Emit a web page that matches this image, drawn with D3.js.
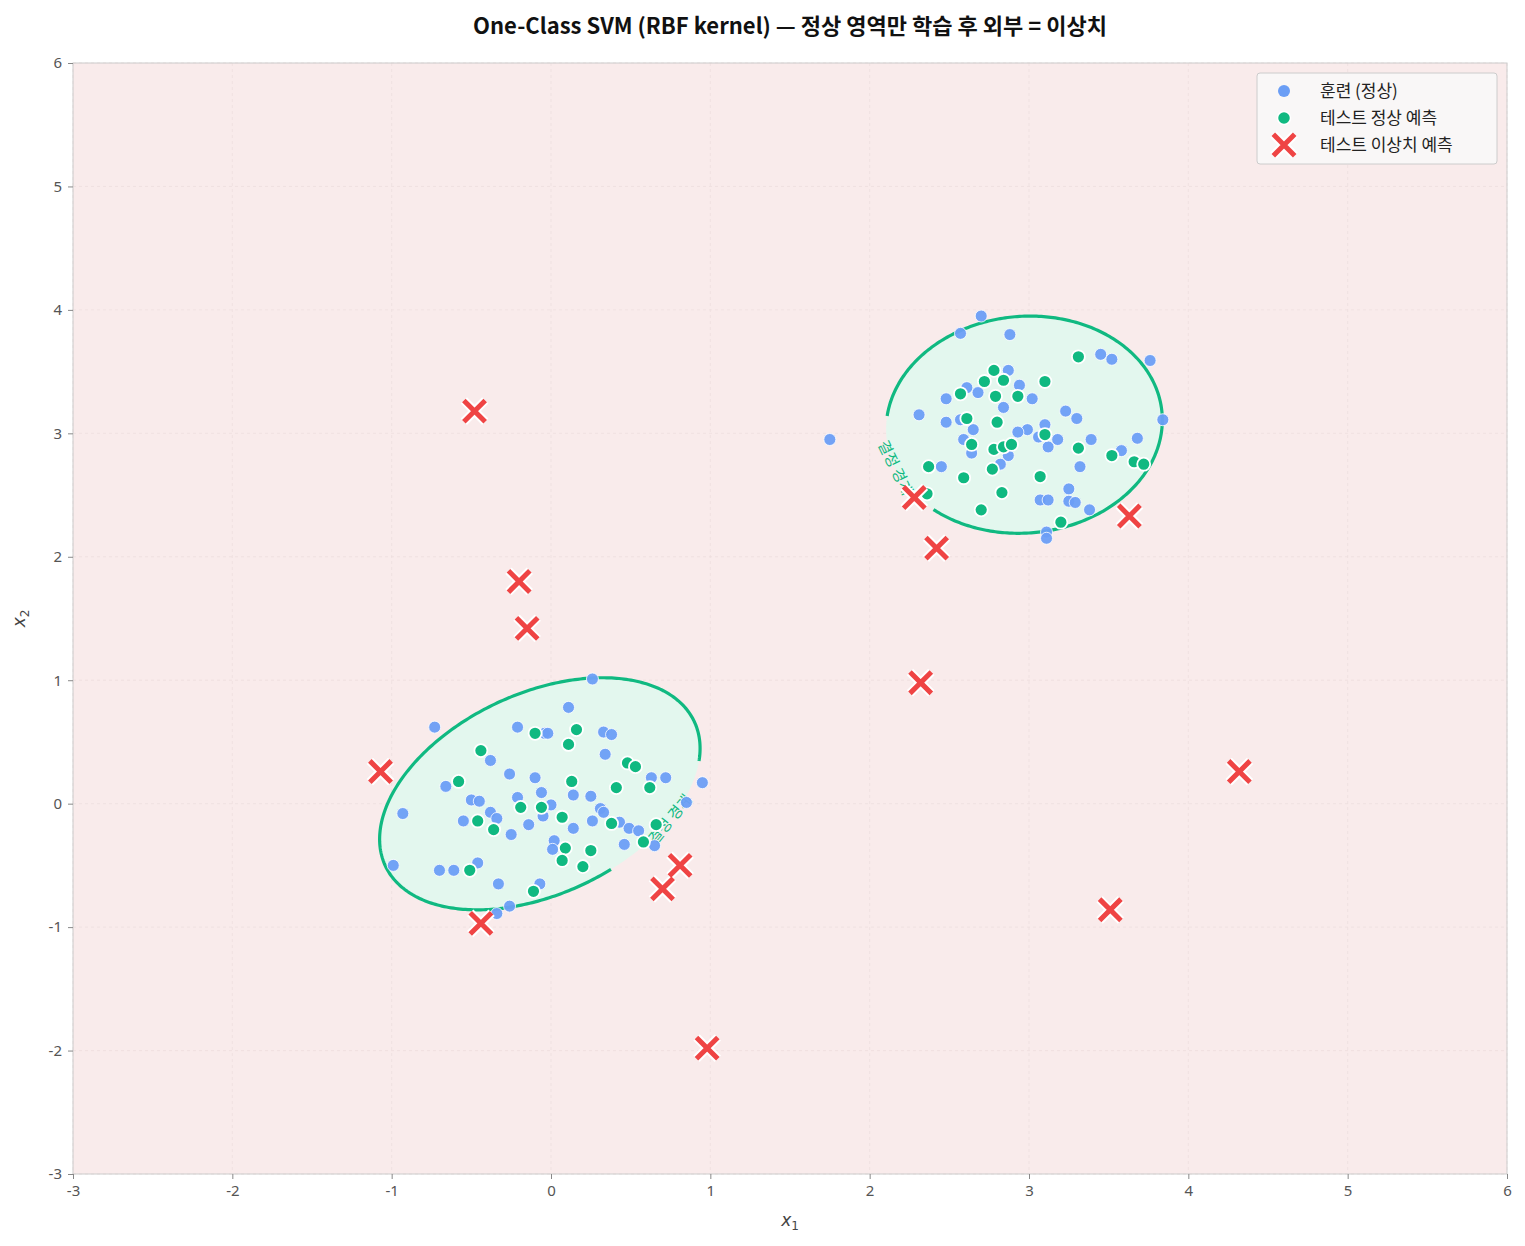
<!DOCTYPE html>
<html><head><meta charset="utf-8">
<script src="https://cdn.jsdelivr.net/npm/d3@7"></script>
<style>body{margin:0;background:#fff}svg{font-family:"Noto Sans CJK KR","Noto Sans",sans-serif}</style>
</head><body><svg id="c" width="1525" height="1246"></svg>
<script>
const xTicks=[-3,-2,-1,0,1,2,3,4,5,6];
const yTicks=[-3,-2,-1,0,1,2,3,4,5,6];
const trainX=[-0.73,-0.93,-0.99,-0.70,-0.61,-0.66,-0.38,-0.50,-0.45,-0.55,-0.38,-0.34,-0.46,-0.26,-0.21,-0.25,-0.21,-0.14,-0.10,-0.06,-0.04,-0.02,-0.05,0.00,0.02,0.01,0.11,0.14,0.14,0.25,0.26,0.33,0.34,0.38,0.43,0.31,0.33,0.46,0.49,0.55,0.63,0.72,0.65,0.85,0.95,0.26,-0.07,-0.26,-0.34,-0.33,
2.70,2.57,2.88,3.45,3.52,3.76,2.31,2.48,2.61,2.68,2.87,2.94,3.02,2.84,2.48,2.57,2.65,2.59,2.64,2.99,2.93,3.10,3.06,3.18,3.12,3.23,3.30,3.39,3.68,3.84,3.58,3.32,2.45,2.87,2.82,3.25,3.07,3.12,3.25,3.29,3.38,3.11,3.11,1.75];
const trainY=[0.62,-0.08,-0.50,-0.54,-0.54,0.14,0.35,0.03,0.02,-0.14,-0.07,-0.12,-0.48,0.24,0.62,-0.25,0.05,-0.17,0.21,0.09,0.57,0.57,-0.10,-0.01,-0.30,-0.37,0.78,0.07,-0.20,0.06,-0.14,0.58,0.40,0.56,-0.15,-0.04,-0.07,-0.33,-0.20,-0.22,0.21,0.21,-0.34,0.01,0.17,1.01,-0.65,-0.83,-0.89,-0.65,
3.95,3.81,3.80,3.64,3.60,3.59,3.15,3.28,3.37,3.33,3.51,3.39,3.28,3.21,3.09,3.11,3.03,2.95,2.84,3.03,3.01,3.07,2.97,2.95,2.89,3.18,3.12,2.95,2.96,3.11,2.86,2.73,2.73,2.82,2.75,2.55,2.46,2.46,2.45,2.44,2.38,2.20,2.15,2.95];
const normX=[-0.44,-0.58,-0.10,0.11,0.16,-0.19,-0.06,0.13,-0.46,-0.36,0.07,0.38,0.41,0.48,0.53,0.62,0.66,0.09,0.07,0.25,0.20,0.58,-0.51,-0.11,
3.31,2.78,2.72,2.84,3.10,2.57,2.79,2.93,2.61,2.80,3.10,2.64,2.78,2.84,2.89,3.31,2.37,2.59,2.77,3.07,3.52,3.66,3.72,2.83,2.70,3.20,2.36];
const normY=[0.43,0.18,0.57,0.48,0.60,-0.03,-0.03,0.18,-0.14,-0.21,-0.11,-0.16,0.13,0.33,0.30,0.13,-0.17,-0.36,-0.46,-0.38,-0.51,-0.31,-0.54,-0.71,
3.62,3.51,3.42,3.43,3.42,3.32,3.30,3.30,3.12,3.09,2.99,2.91,2.87,2.89,2.91,2.88,2.73,2.64,2.71,2.65,2.82,2.77,2.75,2.52,2.38,2.28,2.51];
const outX=[-0.48,-0.20,-0.15,-1.07,-0.44,0.81,0.70,0.98,2.28,2.42,2.32,3.63,4.32,3.51];
const outY=[3.18,1.80,1.42,0.26,-0.97,-0.50,-0.69,-1.98,2.48,2.07,0.98,2.33,0.26,-0.86];
const bCx=[-0.07,2.97], bCy=[0.08,3.07];
const bA=[1.07,0.868], bB=[0.63,0.68], bRot=[-25,-5];
const gapFrom=[[0.93,0.35],[2.10,3.15]], gapTo=[[0.40,-0.58],[2.40,2.38]];
const legendLabels=["훈련 (정상)","테스트 정상 예측","테스트 이상치 예측"];

const svg=d3.select("#c");
const M={l:73,r:1507,t:63,b:1174};
const x=d3.scaleLinear().domain([-3,6]).range([M.l,M.r]);
const y=d3.scaleLinear().domain([-3,6]).range([M.b,M.t]);
const ux=x(1)-x(0);
svg.append("rect").attr("x",M.l).attr("y",M.t).attr("width",M.r-M.l).attr("height",M.b-M.t).attr("fill","#f9ebeb");
const g=svg.append("g");
g.selectAll(".gx").data(xTicks).join("line").attr("x1",d=>x(d)).attr("x2",d=>x(d)).attr("y1",M.t).attr("y2",M.b).attr("stroke","#eedede").attr("stroke-dasharray","3,3").attr("stroke-width",0.8);
g.selectAll(".gy").data(yTicks).join("line").attr("y1",d=>y(d)).attr("y2",d=>y(d)).attr("x1",M.l).attr("x2",M.r).attr("stroke","#eedede").attr("stroke-dasharray","3,3").attr("stroke-width",0.8);

function ellPts(i){
  const th=bRot[i]*Math.PI/180, a=bA[i]*ux, b=bB[i]*ux, cx=x(bCx[i]), cy=y(bCy[i]);
  return d3.range(0,361).map(k=>{const t=k*Math.PI/180;
    const ex=a*Math.cos(t), ey=b*Math.sin(t);
    return [cx+ex*Math.cos(th)-ey*Math.sin(th), cy+ex*Math.sin(th)+ey*Math.cos(th)];});
}
[0,1].forEach(i=>{
  svg.append("path").attr("d",d3.line()(ellPts(i))+"Z").attr("fill","#e3f7ee");
});
[0,1].forEach(i=>{
  const pts=ellPts(i).slice(0,360);
  const near=p=>d3.minIndex(pts,q=>(q[0]-x(p[0]))**2+(q[1]-y(p[1]))**2);
  const i1=near(gapFrom[i]), i2=near(gapTo[i]);
  let s=i1,e=i2; let len=(e-s+360)%360; if(len>180){[s,e]=[e,s];len=360-len;}
  const arc=[]; for(let k=0;k<=360-len;k++) arc.push(pts[(e+k)%360]);
  svg.append("path").attr("d",d3.line()(arc)).attr("fill","none").attr("stroke","#10b981").attr("stroke-width",3.2);
  const m=pts[(s+Math.round(len/2))%360];
  const pa=pts[s], pb=pts[e];
  let ang=Math.atan2(pb[1]-pa[1],pb[0]-pa[0])*180/Math.PI;
  if(ang>90) ang-=180; if(ang<-90) ang+=180;
  svg.append("text").attr("transform",`translate(${m[0]},${m[1]}) rotate(${ang})`)
    .attr("text-anchor","middle").attr("dy","0.35em").style("font-size","15px").attr("fill","#10b981").text("결정 경계");
});

svg.append("g").selectAll("circle").data(trainX.map((d,i)=>[d,trainY[i]])).join("circle")
 .attr("cx",d=>x(d[0])).attr("cy",d=>y(d[1])).attr("r",6).attr("fill","#6b9ef5").attr("fill-opacity",0.95).attr("stroke","#fff").attr("stroke-width",0.8);
svg.append("g").selectAll("circle").data(normX.map((d,i)=>[d,normY[i]])).join("circle")
 .attr("cx",d=>x(d[0])).attr("cy",d=>y(d[1])).attr("r",6.5).attr("fill","#10b981").attr("stroke","#fff").attr("stroke-width",1.8);
const cross=d3.symbol().type(d3.symbolX).size(300);
const og=svg.append("g");
const od=outX.map((d,i)=>[d,outY[i]]);
og.selectAll(".o1").data(od).join("path").attr("d",cross).attr("transform",d=>`translate(${x(d[0])},${y(d[1])})`).attr("stroke","#fff").attr("stroke-width",9);
og.selectAll(".o2").data(od).join("path").attr("d",cross).attr("transform",d=>`translate(${x(d[0])},${y(d[1])})`).attr("stroke","#ef4444").attr("stroke-width",5);

svg.append("rect").attr("x",M.l).attr("y",M.t).attr("width",M.r-M.l).attr("height",M.b-M.t).attr("fill","none").attr("stroke","#ccc");
const ax=svg.append("g").attr("transform",`translate(0,${M.b})`).call(d3.axisBottom(x).tickValues(xTicks).tickFormat(d=>String(d)).tickSize(5).tickPadding(6));
const ay=svg.append("g").attr("transform",`translate(${M.l},0)`).call(d3.axisLeft(y).tickValues(yTicks).tickFormat(d=>String(d)).tickSize(5).tickPadding(6));
[ax,ay].forEach(a=>{a.attr("font-size",null).attr("font-family",null);a.select(".domain").remove();a.selectAll("line").attr("stroke","#888");a.selectAll("text").style("font-size","15px").attr("fill","#555").style("font-family","Noto Sans, sans-serif");});
const xl=svg.append("text").attr("x",(M.l+M.r)/2).attr("y",1226).attr("text-anchor","middle").style("font-size","17px").attr("fill","#444").attr("font-style","italic").style("font-family","DejaVu Sans");
xl.append("tspan").text("x");xl.append("tspan").style("font-size","12px").attr("dy",4).attr("font-style","normal").text("1");
const yl=svg.append("text").attr("transform",`translate(25,${(M.t+M.b)/2}) rotate(-90)`).attr("text-anchor","middle").style("font-size","17px").attr("fill","#444").attr("font-style","italic").style("font-family","DejaVu Sans");
yl.append("tspan").text("x");yl.append("tspan").style("font-size","12px").attr("dy",4).attr("font-style","normal").text("2");
svg.append("text").attr("x",(M.l+M.r)/2).attr("y",34).attr("text-anchor","middle").style("font-size","22px").attr("font-weight","bold").attr("fill","#111").text("One-Class SVM (RBF kernel) — 정상 영역만 학습 후 외부 = 이상치");

const lg=svg.append("g").attr("transform","translate(1257,73)");
lg.append("rect").attr("width",240).attr("height",91).attr("rx",3).attr("fill","#f8f8f8").attr("fill-opacity",0.9).attr("stroke","#ccc");
legendLabels.forEach((t,i)=>{
  const yy=17+i*27;
  if(i==0) lg.append("circle").attr("cx",27).attr("cy",yy+1).attr("r",6).attr("fill","#6b9ef5");
  if(i==1) lg.append("circle").attr("cx",27).attr("cy",yy+1).attr("r",6.5).attr("fill","#10b981").attr("stroke","#fff").attr("stroke-width",1.5);
  if(i==2){lg.append("path").attr("d",cross).attr("transform",`translate(27,${yy+1})`).attr("stroke","#fff").attr("stroke-width",9);
           lg.append("path").attr("d",cross).attr("transform",`translate(27,${yy+1})`).attr("stroke","#ef4444").attr("stroke-width",5);}
  lg.append("text").attr("x",63).attr("y",yy+7).style("font-size","17px").attr("fill","#222").text(t);
});
</script></body></html>
